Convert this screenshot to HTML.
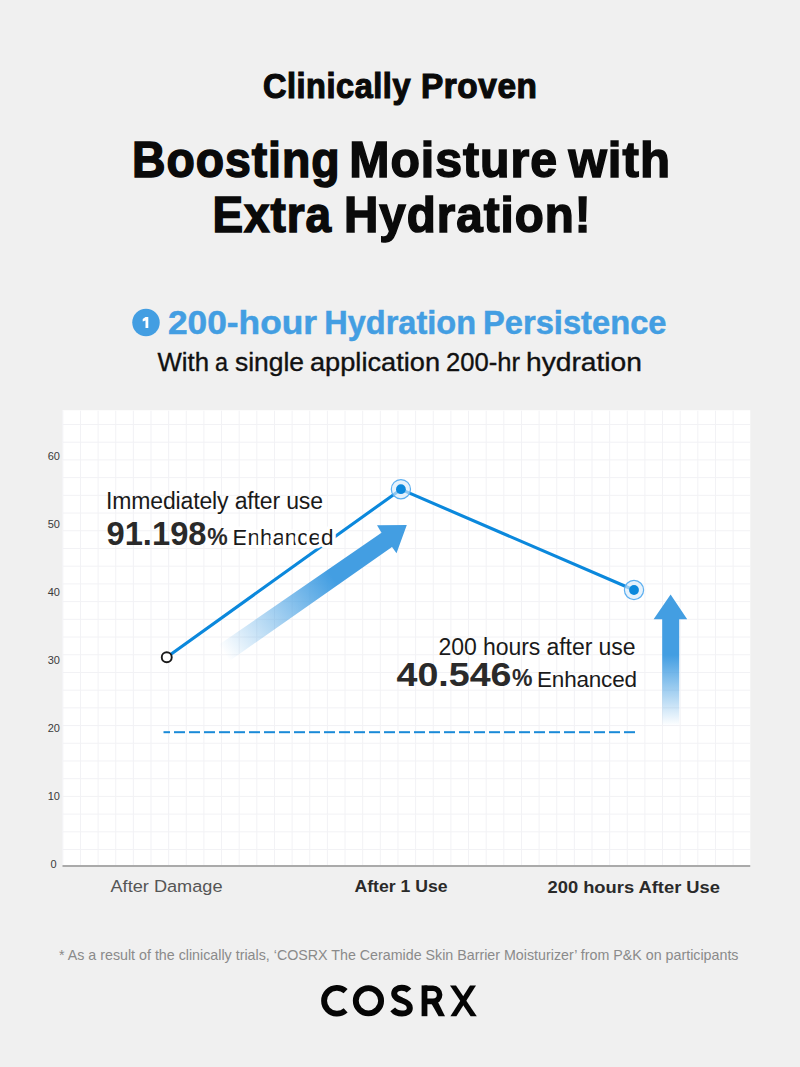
<!DOCTYPE html>
<html><head><meta charset="utf-8">
<style>
html,body{margin:0;padding:0;background:#f0f0f0;}
body{width:800px;height:1067px;overflow:hidden;position:relative;}
svg{position:absolute;left:0;top:0;display:block;}
text{font-family:"Liberation Sans",sans-serif;}
</style></head>
<body>
<svg width="800" height="1067" viewBox="0 0 800 1067">
<defs>
  <linearGradient id="gdiag" gradientUnits="userSpaceOnUse" x1="392" y1="538" x2="226" y2="656">
    <stop offset="0" stop-color="#439ee2"/>
    <stop offset="0.35" stop-color="#439ee2"/>
    <stop offset="1" stop-color="#439ee2" stop-opacity="0"/>
  </linearGradient>
  <linearGradient id="gvert" gradientUnits="userSpaceOnUse" x1="0" y1="655" x2="0" y2="726">
    <stop offset="0" stop-color="#439ee2"/>
    <stop offset="1" stop-color="#439ee2" stop-opacity="0"/>
  </linearGradient>
</defs>

<!-- Titles -->
<circle cx="146" cy="322.5" r="13.75" fill="#439ee2"/>
<path d="M142.7 318.9 L145.5 317 L148.3 317 L148.3 327.9 L145.5 327.9 L145.5 320.4 L142.7 321.5 Z" fill="#fff"/>
<text x="263.00" y="98.4" font-size="35" font-weight="bold" fill="#0a0a0a" stroke="#0a0a0a" stroke-width="1.2" letter-spacing="0.6" textLength="148.00" lengthAdjust="spacingAndGlyphs">Clinically</text>
<text x="421.00" y="98.4" font-size="35" font-weight="bold" fill="#0a0a0a" stroke="#0a0a0a" stroke-width="1.2" letter-spacing="0.6" textLength="116.50" lengthAdjust="spacingAndGlyphs">Proven</text>
<text x="132.00" y="177" font-size="49.5" font-weight="bold" fill="#0a0a0a" stroke="#0a0a0a" stroke-width="1.5" letter-spacing="1" textLength="208.50" lengthAdjust="spacingAndGlyphs">Boosting</text>
<text x="349.25" y="177" font-size="49.5" font-weight="bold" fill="#0a0a0a" stroke="#0a0a0a" stroke-width="1.5" letter-spacing="1" textLength="208.75" lengthAdjust="spacingAndGlyphs">Moisture</text>
<text x="568.50" y="177" font-size="49.5" font-weight="bold" fill="#0a0a0a" stroke="#0a0a0a" stroke-width="1.5" letter-spacing="1" textLength="102.50" lengthAdjust="spacingAndGlyphs">with</text>
<text x="212.50" y="232" font-size="49.5" font-weight="bold" fill="#0a0a0a" stroke="#0a0a0a" stroke-width="1.5" letter-spacing="1" textLength="119.50" lengthAdjust="spacingAndGlyphs">Extra</text>
<text x="344.00" y="232" font-size="49.5" font-weight="bold" fill="#0a0a0a" stroke="#0a0a0a" stroke-width="1.5" letter-spacing="1" textLength="247.50" lengthAdjust="spacingAndGlyphs">Hydration!</text>
<text x="168.00" y="334.3" font-size="33" font-weight="bold" fill="#439ee2" stroke="#439ee2" stroke-width="0.5" textLength="149.00" lengthAdjust="spacingAndGlyphs">200-hour</text>
<text x="324.25" y="334.3" font-size="33" font-weight="bold" fill="#439ee2" stroke="#439ee2" stroke-width="0.5" textLength="151.75" lengthAdjust="spacingAndGlyphs">Hydration</text>
<text x="483.00" y="334.3" font-size="33" font-weight="bold" fill="#439ee2" stroke="#439ee2" stroke-width="0.5" textLength="183.50" lengthAdjust="spacingAndGlyphs">Persistence</text>
<text x="157.50" y="371" font-size="25" fill="#111" stroke="#111" stroke-width="0.35" textLength="51.50" lengthAdjust="spacingAndGlyphs">With</text>
<text x="215.00" y="371" font-size="25" fill="#111" stroke="#111" stroke-width="0.35" textLength="13.00" lengthAdjust="spacingAndGlyphs">a</text>
<text x="235.00" y="371" font-size="25" fill="#111" stroke="#111" stroke-width="0.35" textLength="69.00" lengthAdjust="spacingAndGlyphs">single</text>
<text x="310.00" y="371" font-size="25" fill="#111" stroke="#111" stroke-width="0.35" textLength="130.00" lengthAdjust="spacingAndGlyphs">application</text>
<text x="446.00" y="371" font-size="25" fill="#111" stroke="#111" stroke-width="0.35" textLength="74.00" lengthAdjust="spacingAndGlyphs">200-hr</text>
<text x="526.00" y="371" font-size="25" fill="#111" stroke="#111" stroke-width="0.35" textLength="116.00" lengthAdjust="spacingAndGlyphs">hydration</text>

<!-- Chart background -->
<rect x="62.5" y="410.25" width="687.75" height="455" fill="#fff"/>
<g fill="#f2f2f5">
<rect x="62.30" y="410.75" width="1" height="454.25"/>
<rect x="79.94" y="410.75" width="1" height="454.25"/>
<rect x="97.58" y="410.75" width="1" height="454.25"/>
<rect x="115.22" y="410.75" width="1" height="454.25"/>
<rect x="132.86" y="410.75" width="1" height="454.25"/>
<rect x="150.50" y="410.75" width="1" height="454.25"/>
<rect x="168.14" y="410.75" width="1" height="454.25"/>
<rect x="185.78" y="410.75" width="1" height="454.25"/>
<rect x="203.42" y="410.75" width="1" height="454.25"/>
<rect x="221.06" y="410.75" width="1" height="454.25"/>
<rect x="238.70" y="410.75" width="1" height="454.25"/>
<rect x="256.34" y="410.75" width="1" height="454.25"/>
<rect x="273.98" y="410.75" width="1" height="454.25"/>
<rect x="291.62" y="410.75" width="1" height="454.25"/>
<rect x="309.26" y="410.75" width="1" height="454.25"/>
<rect x="326.90" y="410.75" width="1" height="454.25"/>
<rect x="344.54" y="410.75" width="1" height="454.25"/>
<rect x="362.18" y="410.75" width="1" height="454.25"/>
<rect x="379.82" y="410.75" width="1" height="454.25"/>
<rect x="397.46" y="410.75" width="1" height="454.25"/>
<rect x="415.10" y="410.75" width="1" height="454.25"/>
<rect x="432.74" y="410.75" width="1" height="454.25"/>
<rect x="450.38" y="410.75" width="1" height="454.25"/>
<rect x="468.02" y="410.75" width="1" height="454.25"/>
<rect x="485.66" y="410.75" width="1" height="454.25"/>
<rect x="503.30" y="410.75" width="1" height="454.25"/>
<rect x="520.94" y="410.75" width="1" height="454.25"/>
<rect x="538.58" y="410.75" width="1" height="454.25"/>
<rect x="556.22" y="410.75" width="1" height="454.25"/>
<rect x="573.86" y="410.75" width="1" height="454.25"/>
<rect x="591.50" y="410.75" width="1" height="454.25"/>
<rect x="609.14" y="410.75" width="1" height="454.25"/>
<rect x="626.78" y="410.75" width="1" height="454.25"/>
<rect x="644.42" y="410.75" width="1" height="454.25"/>
<rect x="662.06" y="410.75" width="1" height="454.25"/>
<rect x="679.70" y="410.75" width="1" height="454.25"/>
<rect x="697.34" y="410.75" width="1" height="454.25"/>
<rect x="714.98" y="410.75" width="1" height="454.25"/>
<rect x="732.62" y="410.75" width="1" height="454.25"/>
<rect x="62.75" y="424.00" width="687.50" height="1"/>
<rect x="62.75" y="441.71" width="687.50" height="1"/>
<rect x="62.75" y="459.42" width="687.50" height="1"/>
<rect x="62.75" y="477.13" width="687.50" height="1"/>
<rect x="62.75" y="494.84" width="687.50" height="1"/>
<rect x="62.75" y="512.55" width="687.50" height="1"/>
<rect x="62.75" y="530.26" width="687.50" height="1"/>
<rect x="62.75" y="547.97" width="687.50" height="1"/>
<rect x="62.75" y="565.68" width="687.50" height="1"/>
<rect x="62.75" y="583.39" width="687.50" height="1"/>
<rect x="62.75" y="601.10" width="687.50" height="1"/>
<rect x="62.75" y="618.81" width="687.50" height="1"/>
<rect x="62.75" y="636.52" width="687.50" height="1"/>
<rect x="62.75" y="654.23" width="687.50" height="1"/>
<rect x="62.75" y="671.94" width="687.50" height="1"/>
<rect x="62.75" y="689.65" width="687.50" height="1"/>
<rect x="62.75" y="707.36" width="687.50" height="1"/>
<rect x="62.75" y="725.07" width="687.50" height="1"/>
<rect x="62.75" y="742.78" width="687.50" height="1"/>
<rect x="62.75" y="760.49" width="687.50" height="1"/>
<rect x="62.75" y="778.20" width="687.50" height="1"/>
<rect x="62.75" y="795.91" width="687.50" height="1"/>
<rect x="62.75" y="813.62" width="687.50" height="1"/>
<rect x="62.75" y="831.33" width="687.50" height="1"/>
<rect x="62.75" y="849.04" width="687.50" height="1"/>
</g>
<rect x="62.5" y="865" width="687.75" height="2" fill="#aaaaaa"/>

<!-- Y labels -->
<g font-size="11" fill="#3a3a3a" text-anchor="end">
  <text x="60" y="460">60</text>
  <text x="60" y="528">50</text>
  <text x="60" y="596">40</text>
  <text x="60" y="664">30</text>
  <text x="60" y="732">20</text>
  <text x="60" y="800">10</text>
  <text x="56.5" y="867.6">0</text>
</g>

<!-- dashed line -->
<g fill="#1a8ad8">
<rect x="163.5" y="731.2" width="6.5" height="2"/>
<rect x="174.0" y="731.2" width="11" height="2"/>
<rect x="189.0" y="731.2" width="11" height="2"/>
<rect x="204.0" y="731.2" width="11" height="2"/>
<rect x="219.0" y="731.2" width="11" height="2"/>
<rect x="234.0" y="731.2" width="11" height="2"/>
<rect x="249.0" y="731.2" width="11" height="2"/>
<rect x="264.0" y="731.2" width="11" height="2"/>
<rect x="279.0" y="731.2" width="11" height="2"/>
<rect x="294.0" y="731.2" width="11" height="2"/>
<rect x="309.0" y="731.2" width="11" height="2"/>
<rect x="324.0" y="731.2" width="11" height="2"/>
<rect x="339.0" y="731.2" width="11" height="2"/>
<rect x="354.0" y="731.2" width="11" height="2"/>
<rect x="369.0" y="731.2" width="11" height="2"/>
<rect x="384.0" y="731.2" width="11" height="2"/>
<rect x="399.0" y="731.2" width="11" height="2"/>
<rect x="414.0" y="731.2" width="11" height="2"/>
<rect x="429.0" y="731.2" width="11" height="2"/>
<rect x="444.0" y="731.2" width="11" height="2"/>
<rect x="459.0" y="731.2" width="11" height="2"/>
<rect x="474.0" y="731.2" width="11" height="2"/>
<rect x="489.0" y="731.2" width="11" height="2"/>
<rect x="504.0" y="731.2" width="11" height="2"/>
<rect x="519.0" y="731.2" width="11" height="2"/>
<rect x="534.0" y="731.2" width="11" height="2"/>
<rect x="549.0" y="731.2" width="11" height="2"/>
<rect x="564.0" y="731.2" width="11" height="2"/>
<rect x="579.0" y="731.2" width="11" height="2"/>
<rect x="594.0" y="731.2" width="11" height="2"/>
<rect x="609.0" y="731.2" width="11" height="2"/>
<rect x="624.0" y="731.2" width="11" height="2"/>
</g>

<!-- arrows -->
<polygon points="377,525.2 406.8,525 396.5,553.2 392,547 228,662 217,646 381.5,532.8" fill="url(#gdiag)"/>
<polygon points="670.6,594.5 687.2,619.3 679.2,619.3 679.2,730 662.2,730 662.2,619.3 653.6,619.3" fill="url(#gvert)"/>

<!-- data line -->
<polyline points="166.75,657.2 400.9,489.4 634,590" fill="none" stroke="#0b88dc" stroke-width="3.1" stroke-linejoin="round"/>
<circle cx="166.75" cy="657.2" r="5.0" fill="#fff" stroke="#1a1a1a" stroke-width="1.9"/>
<circle cx="400.9" cy="489.2" r="9.6" fill="#d9ebfa" fill-opacity="0.65" stroke="#5caff0" stroke-width="1.2"/>
<circle cx="400.9" cy="489.2" r="4.9" fill="#0b88dc"/>
<circle cx="634" cy="590" r="9.6" fill="#d9ebfa" fill-opacity="0.65" stroke="#5caff0" stroke-width="1.2"/>
<circle cx="634" cy="590" r="4.9" fill="#0b88dc"/>

<!-- annotations -->
<text x="106" y="509" font-size="23" fill="#1a1a1a" textLength="217" lengthAdjust="spacing">Immediately after use</text>
<text x="106.5" y="545" font-size="33" font-weight="bold" fill="#2a2a2a" textLength="100" lengthAdjust="spacingAndGlyphs">91.198</text>
<text x="207.2" y="545" font-size="23" font-weight="bold" fill="#2a2a2a" textLength="21" lengthAdjust="spacing">%</text>
<text x="232.5" y="545" font-size="22.5" fill="#1a1a1a" textLength="101" lengthAdjust="spacing" stroke="#fff" stroke-width="7" stroke-linejoin="round" paint-order="stroke">Enhanced</text>

<text x="438.5" y="654.5" font-size="23" fill="#1a1a1a" textLength="197" lengthAdjust="spacing">200 hours after use</text>
<text x="396.5" y="685.7" font-size="33" font-weight="bold" fill="#2a2a2a" textLength="115" lengthAdjust="spacingAndGlyphs">40.546</text>
<text x="512" y="685.7" font-size="23" font-weight="bold" fill="#2a2a2a" textLength="20" lengthAdjust="spacing">%</text>
<text x="537" y="687" font-size="22.5" fill="#1a1a1a" textLength="100" lengthAdjust="spacing">Enhanced</text>

<!-- x labels -->
<text x="110.5" y="892.4" font-size="16.7" fill="#555" textLength="112" lengthAdjust="spacingAndGlyphs">After Damage</text>
<text x="354.5" y="892.4" font-size="16.7" font-weight="bold" fill="#2a2a2a" textLength="93" lengthAdjust="spacingAndGlyphs">After 1 Use</text>
<text x="547.5" y="892.6" font-size="16.7" font-weight="bold" fill="#2a2a2a" textLength="172.5" lengthAdjust="spacingAndGlyphs">200 hours After Use</text>

<!-- footnote -->
<text x="59" y="959.5" font-size="15" fill="#8a8a8a" textLength="679.5" lengthAdjust="spacingAndGlyphs">* As a result of the clinically trials, ‘COSRX The Ceramide Skin Barrier Moisturizer’ from P&amp;K on participants</text>

<!-- logo -->
<g fill="none" stroke="#050505" stroke-width="5.9">
  <path d="M345.63 991.16 A12.9 12.9 0 1 0 345.63 1010.34"/>
  <circle cx="368.45" cy="1000.75" r="12.65"/>
  <path stroke-width="6" d="M409.0 990.6 C407.5 988.8 404.8 987.8 401.8 987.8 C397.5 987.8 394.2 990.3 394.2 993.6 C394.2 997.5 398 999 402 1000.5 C406.5 1002 409.8 1004 409.8 1008 C409.8 1011.5 406.5 1013.6 402 1013.6 C398 1013.6 394.5 1011.8 392.7 1009.4"/>
  <path stroke-width="5.6" d="M424.4 988.2 H433.0 A6.6 6.6 0 0 1 433.0 1001.4 H424.4"/>
</g>
<g fill="#050505">
  <rect x="421.6" y="985.4" width="5.8" height="30.8"/>
  <polygon points="430.5,1002 437.2,1000.5 445,1016.2 438.6,1016.2"/>
  <polygon points="450,985.4 456,985.4 476.8,1016.2 470.6,1016.2"/>
  <polygon points="470,985.4 476,985.4 456.4,1016.2 450.4,1016.2"/>
</g>
</svg>
</body></html>
